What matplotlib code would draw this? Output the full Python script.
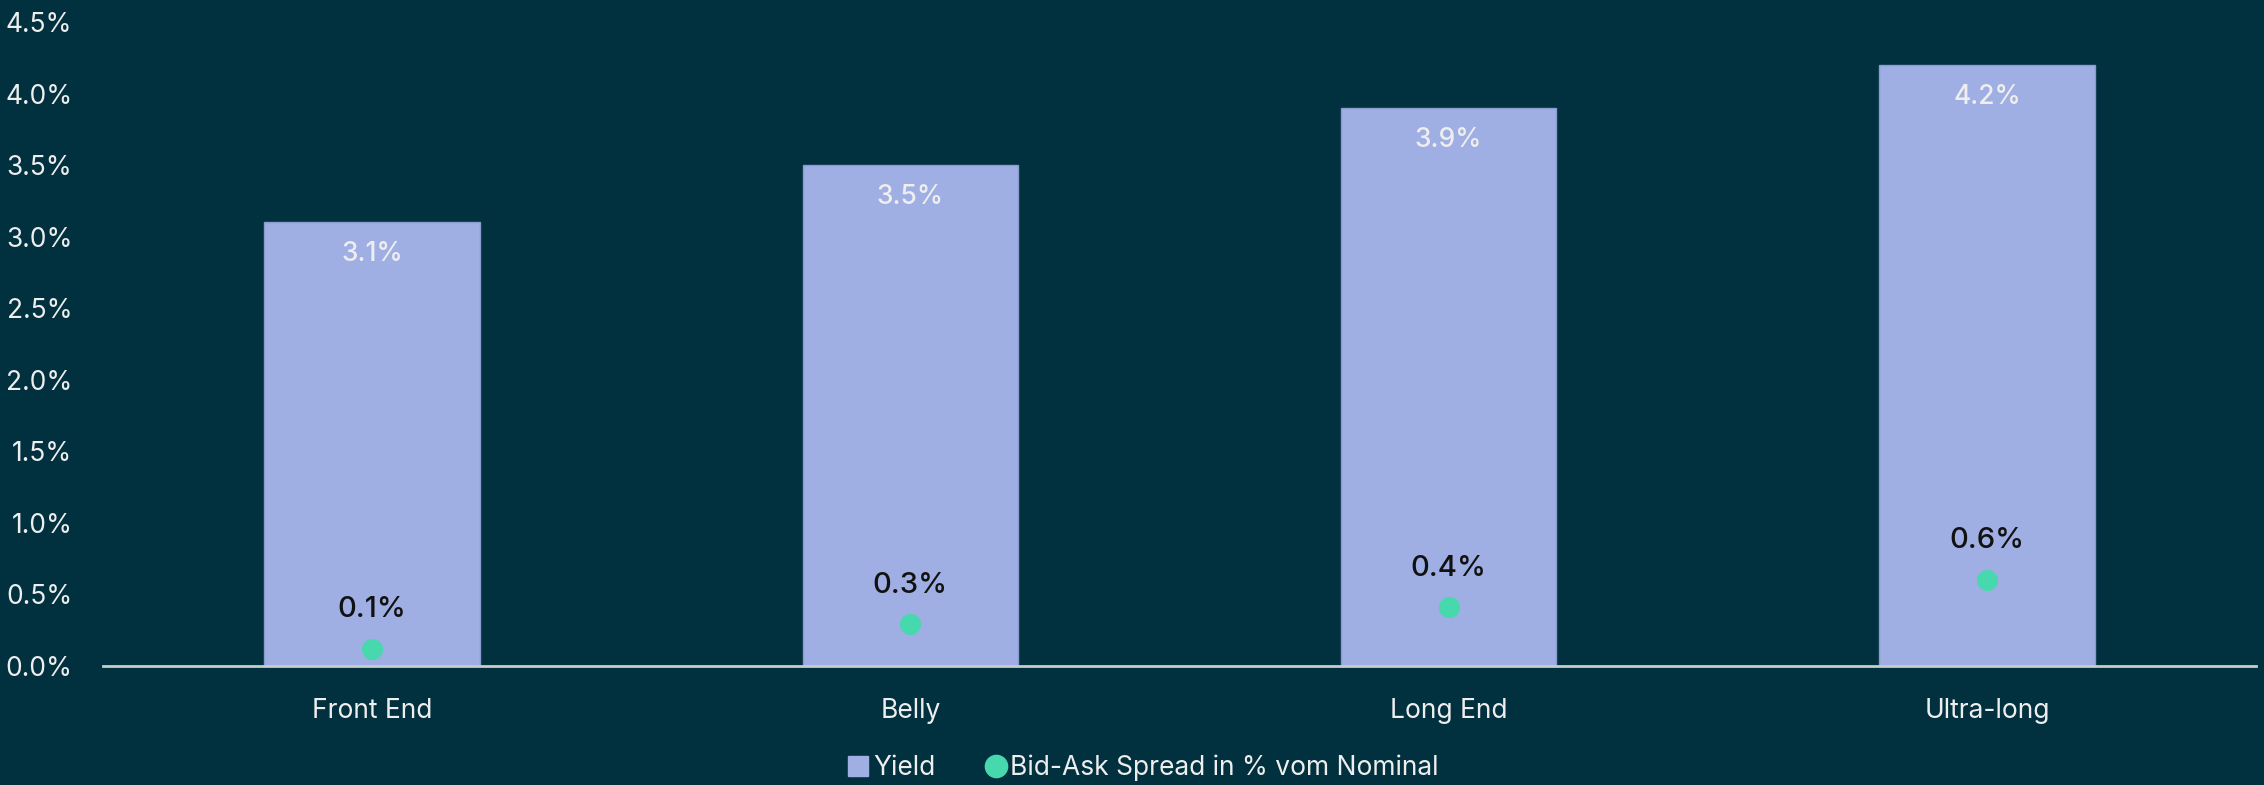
import matplotlib.pyplot as plt
from matplotlib.lines import Line2D
from matplotlib.ticker import FuncFormatter

plt.rcParams['font.family'] = ['Inter', 'DejaVu Sans']

categories = ['Front End', 'Belly', 'Long End', 'Ultra-long']
yield_pct = [3.1, 3.5, 3.9, 4.2]
spread_pct = [0.12, 0.29, 0.41, 0.60]

bg = '#01313f'
bar_color = '#9faee3'
dot_color = '#47d8ad'
text_color = '#eeeeee'

fig = plt.figure(figsize=(22.64, 7.85), dpi=100, facecolor=bg)
ax = fig.add_axes([0.0455, 0.152, 0.951, 0.820])
ax.set_facecolor(bg)

x = range(len(categories))
bars = ax.bar(x, yield_pct, width=0.4, color=bar_color, edgecolor='#8a9bd0', linewidth=1, zorder=2)
ax.scatter(x, spread_pct, s=230, color=dot_color, zorder=3, linewidths=0)

for xi, v in zip(x, yield_pct):
    ax.annotate(f'{v:.1f}%', (xi, v), xytext=(0, -32), textcoords='offset pixels',
                ha='center', va='center', color=text_color, fontsize=19, fontweight='medium')
for xi, v in zip(x, spread_pct):
    ax.annotate(f'{v:.1f}%', (xi, v), xytext=(0, 39), textcoords='offset pixels',
                ha='center', va='center', color='#111111', fontsize=21, fontweight='medium')

ax.set_xlim(-0.5, 3.5)
ax.set_ylim(0, 4.5)
ax.set_yticks([i * 0.5 for i in range(10)])
ax.yaxis.set_major_formatter(FuncFormatter(lambda v, p: f'{v:.1f}%'))
ax.set_xticks(list(x))
ax.set_xticklabels(categories)
ax.tick_params(axis='both', length=0, colors=text_color, labelsize=19)
ax.tick_params(axis='y', pad=22)
ax.tick_params(axis='x', pad=23)

for side in ['top', 'right', 'left']:
    ax.spines[side].set_visible(False)
ax.spines['bottom'].set_color('#c8cccc')
ax.spines['bottom'].set_linewidth(2)
ax.spines['bottom'].set_zorder(4)

handles = [
    Line2D([], [], marker='s', linestyle='none', markersize=14, color=bar_color, label='Yield'),
    Line2D([], [], marker='o', linestyle='none', markersize=16, color=dot_color, label='Bid-Ask Spread in % vom Nominal'),
]
fig.legend(handles=handles, loc='center', bbox_to_anchor=(0.505, 1 - 768 / 785), ncol=2, frameon=False,
           fontsize=19, labelcolor=text_color, handlelength=0.8, handletextpad=0.15, columnspacing=1.9)

fig.savefig('out.png', dpi=100, facecolor=bg)
